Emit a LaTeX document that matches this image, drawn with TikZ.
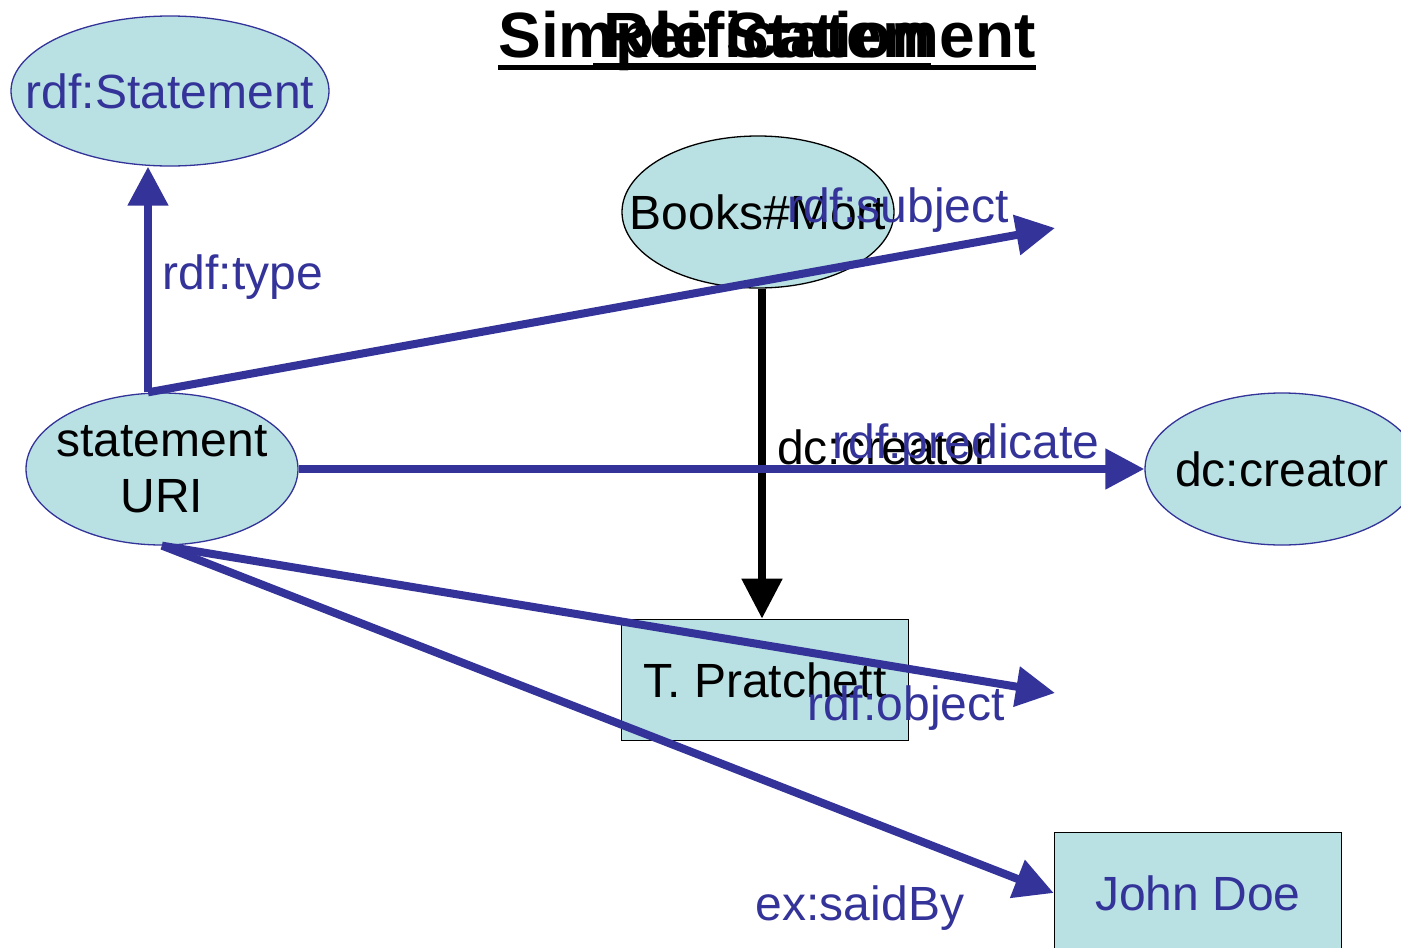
\documentclass[tikz,border=0pt]{standalone}
\usepackage{fontspec}
\setmainfont{Liberation Sans}
\usetikzlibrary{shapes.geometric,arrows.meta}
\definecolor{rdfblue}{RGB}{51,51,153}
\definecolor{nodefill}{RGB}{185,224,226}
\newcommand{\nowide}[1]{\makebox[0pt]{#1}}
\begin{document}
\begin{tikzpicture}[x=1pt,y=-1pt,
  res/.style={ellipse,draw=rdfblue,line width=1.3pt,fill=nodefill,inner sep=0pt,
    minimum width=272pt,minimum height=152pt,font=\fontsize{48}{56}\selectfont},
  lit/.style={rectangle,draw=black,line width=1.6pt,fill=nodefill,inner sep=0pt,
    minimum width=287pt,minimum height=121pt,font=\fontsize{48}{56}\selectfont},
  prop/.style={draw=rdfblue,line width=8pt,-{Triangle[length=39pt,width=39pt]}},
  lbl/.style={anchor=base,inner sep=0pt,text=rdfblue,font=\fontsize{48}{56}\selectfont},
  ttl/.style={anchor=base,inner sep=0pt,font=\fontsize{64}{70}\selectfont\bfseries}]
  \useasboundingbox (0,0) rectangle (1401,948);
  \clip (0,0) rectangle (1401,948);
  \node[ttl] (simple) at (767,57) {Simple Statement};
  \node[ttl] (reif) at (767,57) {Reification};
  \draw[line width=5pt] ([yshift=-10pt]simple.base west)--([yshift=-10pt]simple.base east);
  \draw[line width=5pt] ([yshift=-8pt,xshift=-10pt]reif.base west)--([yshift=-8pt]reif.base east);
  \node[res,minimum width=318pt,minimum height=150pt,text=rdfblue] (rdfst) at (170,91) {\nowide{rdf:Statement}};
  \node[res,draw=black] (books) at (758,212) {\nowide{Books\#Mort}};
  \node[res,align=center] (stmt) at (162,469) {\nowide{statement}\\\nowide{URI}};
  \node[res,minimum width=274pt] (creator) at (1282,469) {\nowide{dc:creator}};
  \node[lit] (pratchett) at (765,680) {T. Pratchett};
  \node[lit,text=rdfblue] (doe) at (1198,893) {John Doe};
  \coordinate (subjend) at (1055,228);
  \coordinate (objend) at (1055,693);
  \draw[line width=8pt,-{Triangle[length=40pt,width=39pt]}] ([xshift=4pt]books.south)--([xshift=-3pt]pratchett.north);
  \node[lbl,text=black] (dclbl) at (884,464) {dc:creator};
  \draw[prop] ([xshift=-14pt]stmt.north)--([xshift=-22pt]rdfst.south);
  \draw[prop] ([xshift=-14pt]stmt.north)--(subjend);
  \draw[prop] (stmt.east)--(creator.west);
  \draw[prop] (stmt.south)--(objend);
  \draw[prop] (stmt.south)--(doe.west);
  \node[lbl] (typelbl) at (243,289) {rdf:type};
  \node[lbl] (subjlbl) at (898,222) {rdf:subject};
  \node[lbl] (predlbl) at (966,458) {rdf:predicate};
  \node[lbl] (objlbl) at (906,720) {rdf:object};
  \node[lbl] (saidlbl) at (860,920) {ex:saidBy};
\end{tikzpicture}
\end{document}
